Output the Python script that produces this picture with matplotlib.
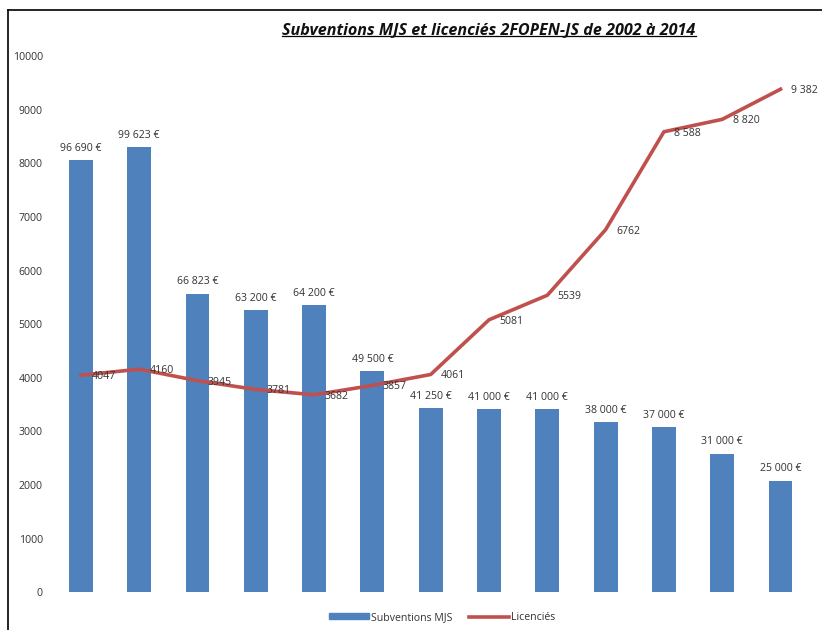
import matplotlib.pyplot as plt
import matplotlib.lines as mlines
import numpy as np

plt.rcParams['font.family'] = ['Open Sans', 'DejaVu Sans']

# donnees
annees = list(range(2002, 2015))
subv_hauteur = [8058, 8302, 5569, 5267, 5350, 4125, 3438, 3417, 3417, 3167, 3083, 2583, 2083]
subv_labels = ['96 690 €', '99 623 €', '66 823 €', '63 200 €', '64 200 €', '49 500 €',
               '41 250 €', '41 000 €', '41 000 €', '38 000 €', '37 000 €', '31 000 €', '25 000 €']
licencies = [4047, 4160, 3945, 3781, 3682, 3857, 4061, 5081, 5539, 6762, 8588, 8820, 9382]
lic_labels = ['4047', '4160', '3945', '3781', '3682', '3857', '4061', '5081', '5539', '6762',
              '8 588', '8 820', '9 382']

bleu = '#4F81BD'
rouge = '#C0504D'
gris = '#333333'

fig = plt.figure(figsize=(8.22, 6.3), dpi=100)
ax = fig.add_axes([0.063, 0.060, 0.922, 0.851])

x = np.arange(len(annees))
ax.bar(x, subv_hauteur, width=0.41, color=bleu, label='Subventions MJS', zorder=1)
ax.plot(x, licencies, color=rouge, lw=2.6, label='Licenciés', zorder=2)

for i in range(len(x)):
    ax.annotate(subv_labels[i], (x[i], subv_hauteur[i]), xytext=(0, 4.5),
                textcoords='offset points', ha='center', va='bottom', fontsize=7.6, color=gris)
    ax.annotate(lic_labels[i], (x[i], licencies[i]), xytext=(7.5, -1),
                textcoords='offset points', ha='left', va='center', fontsize=7.6,
                color=gris, zorder=3)

ax.set_xlim(-0.5, 12.5)
ax.set_ylim(0, 10000)
ax.set_yticks(range(0, 10001, 1000))
ax.set_xticks([])
ax.tick_params(axis='y', length=0, pad=6.5, labelsize=7.6, labelcolor=gris)
for s in ax.spines.values():
    s.set_visible(False)

handles = [plt.Rectangle((0, 0), 1, 1, color=bleu),
           mlines.Line2D([], [], color=rouge, lw=2.6)]
fig.legend(handles, ['Subventions MJS', 'Licenciés'], loc='center', bbox_to_anchor=(0.538, 0.02),
           ncol=2, frameon=False, fontsize=7.6, handlelength=3.8, handleheight=0.5,
           handletextpad=0.2, columnspacing=1.6, labelcolor=gris)

t = fig.text(0.595, 0.952, 'Subventions MJS et licenciés 2FOPEN-JS de 2002 à 2014',
             ha='center', va='center', fontsize=11.6, fontweight='bold', fontstyle='italic',
             color='#111111')
fig.canvas.draw()
bb = t.get_window_extent().transformed(fig.transFigure.inverted())
fig.add_artist(mlines.Line2D([bb.x0, bb.x1], [bb.y0 + 0.004, bb.y0 + 0.004],
                             color='black', lw=0.9, transform=fig.transFigure))

# cadre de la capture
fig.add_artist(mlines.Line2D([8 / 822, 8 / 822], [0, 1 - 10 / 630], color='black', lw=1.2,
                             transform=fig.transFigure))
fig.add_artist(mlines.Line2D([8 / 822, 1], [1 - 10 / 630, 1 - 10 / 630], color='black', lw=1.2,
                             transform=fig.transFigure))

fig.savefig('out.png', dpi=100)
